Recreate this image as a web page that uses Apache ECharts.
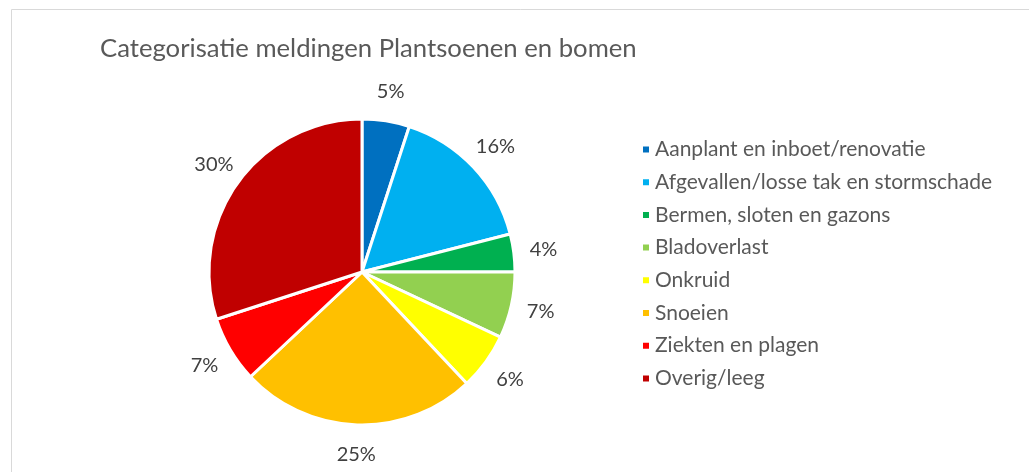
<!DOCTYPE html>
<html>
<head>
<meta charset="utf-8">
<script src="https://cdn.jsdelivr.net/npm/echarts@6/dist/echarts.min.js"></script>
<style>
  html, body { margin: 0; padding: 0; background: #fff; }
  #chart { width: 1029px; height: 472px; }
</style>
</head>
<body>
<div id="chart"></div>
<script>
const categories = [
  'Aanplant en inboet/renovatie',
  'Afgevallen/losse tak en stormschade',
  'Bermen, sloten en gazons',
  'Bladoverlast',
  'Onkruid',
  'Snoeien',
  'Ziekten en plagen',
  'Overig/leeg'
]
const percentages = [5, 16, 4, 7, 6, 25, 7, 30]
const colors = ['#0070C0', '#00B0F0', '#00B050', '#92D050', '#FFFF00', '#FFC000', '#FF0000', '#C00000']

const font = 'Lato, "Open Sans", sans-serif'
const myChart = echarts.init(document.getElementById('chart'))

const pieData = categories.map((name, i) => ({
  name: name,
  value: percentages[i],
  itemStyle: { color: colors[i] }
}))

myChart.setOption({
  animation: false,
  title: {
    text: 'Categorisatie meldingen Plantsoenen en bomen',
    left: 95,
    top: 31,
    textStyle: { fontFamily: font, fontSize: 25.7, fontWeight: 'normal', color: '#595959' }
  },
  graphic: [{
    type: 'rect',
    shape: { x: 11.5, y: 9.5, width: 1040, height: 480 },
    style: { fill: 'none', stroke: '#d9d9d9', lineWidth: 1 },
    silent: true
  }],
  legend: {
    orient: 'vertical',
    left: 636,
    top: 134,
    icon: 'rect',
    itemWidth: 8,
    itemHeight: 8,
    itemGap: 11.7,
    data: categories,
    textStyle: { fontFamily: font, fontSize: 21, lineHeight: 21, color: '#595959' }
  },
  series: [
    {
      // the pie itself
      type: 'pie',
      center: [362, 272],
      radius: [0, 153],
      startAngle: 90,
      clockwise: true,
      silent: true,
      itemStyle: { borderColor: '#fff', borderWidth: 3 },
      label: { show: false },
      labelLine: { show: false },
      data: pieData
    },
    {
      // transparent ring to place the percent labels
      type: 'pie',
      center: [362, 272],
      radius: [172, 188],
      startAngle: 90,
      clockwise: true,
      silent: true,
      itemStyle: { color: 'rgba(0,0,0,0)' },
      label: {
        show: true,
        position: 'inside',
        formatter: '{c}%',
        fontFamily: font,
        fontSize: 20,
        color: '#404040'
      },
      labelLine: { show: false },
      data: categories.map((name, i) => ({ name: name, value: percentages[i] }))
    }
  ]
})
</script>
</body>
</html>
